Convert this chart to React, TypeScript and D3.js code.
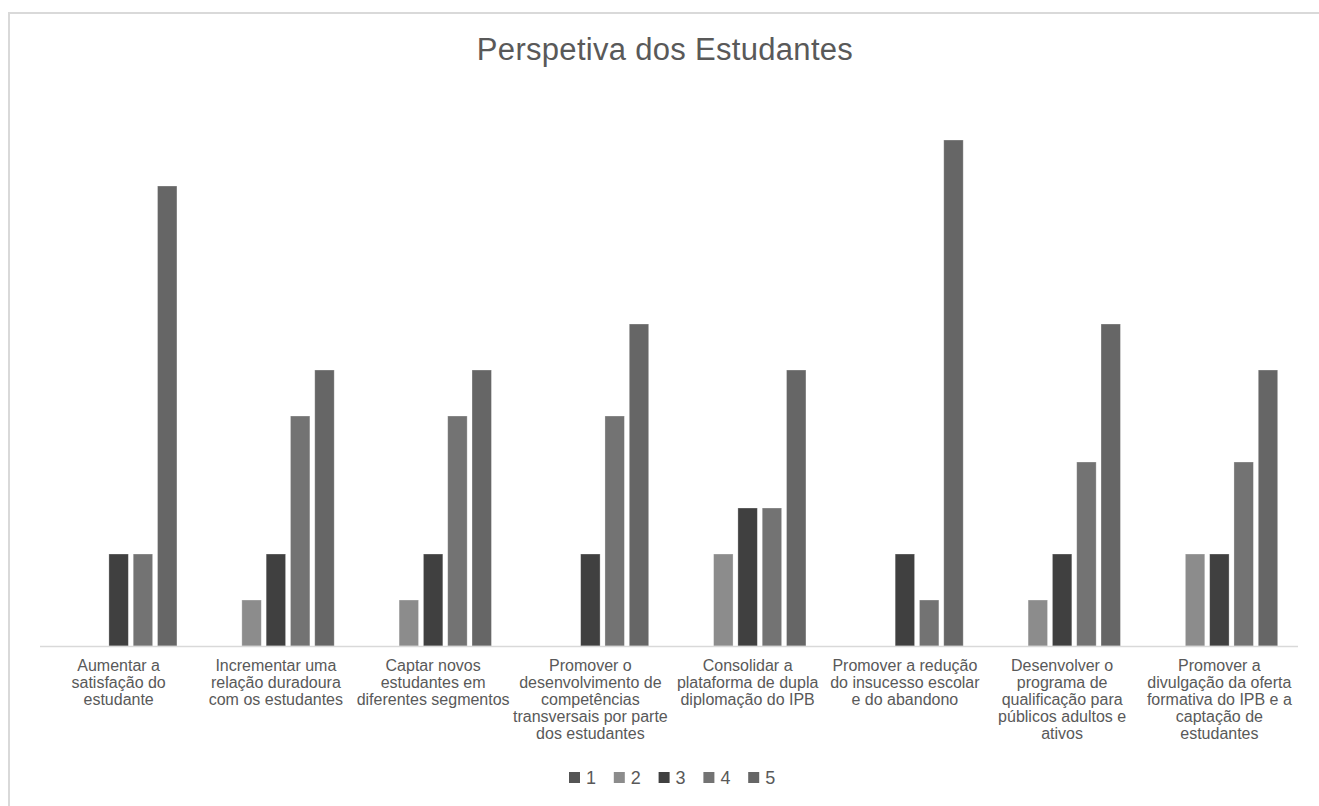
import { useEffect, useRef } from 'react'
import * as d3 from 'd3'

const categories = [
  ['Aumentar a', 'satisfação do', 'estudante'],
  ['Incrementar uma', 'relação duradoura', 'com os estudantes'],
  ['Captar novos', 'estudantes em', 'diferentes segmentos'],
  ['Promover o', 'desenvolvimento de', 'competências', 'transversais por parte', 'dos estudantes'],
  ['Consolidar a', 'plataforma de dupla', 'diplomação do IPB'],
  ['Promover a redução', 'do insucesso escolar', 'e do abandono'],
  ['Desenvolver o', 'programa de', 'qualificação para', 'públicos adultos e', 'ativos'],
  ['Promover a', 'divulgação da oferta', 'formativa do IPB e a', 'captação de', 'estudantes'],
]
const seriesNames = ['1', '2', '3', '4', '5']
const s1 = [0, 0, 0, 0, 0, 0, 0, 0]
const s2 = [0, 1, 1, 0, 2, 0, 1, 2]
const s3 = [2, 2, 2, 2, 3, 2, 2, 2]
const s4 = [2, 5, 5, 5, 3, 1, 4, 4]
const s5 = [10, 6, 6, 7, 6, 11, 7, 6]
const seriesValues = [s1, s2, s3, s4, s5]
const colors = ['#555555', '#8c8c8c', '#404040', '#737373', '#666666']

const W = 1319
const H = 806

export default function App() {
  const ref = useRef<SVGSVGElement>(null)

  useEffect(() => {
    const svg = d3.select(ref.current)
    svg.selectAll('*').remove()

    const font = '"Liberation Sans", Arial, sans-serif'
    const keys = categories.map((_, i) => String(i))

    // chart frame
    svg.append('rect')
      .attr('x', 9).attr('y', 13)
      .attr('width', W + 20).attr('height', H + 20)
      .attr('fill', '#fff').attr('stroke', '#d9d9d9').attr('stroke-width', 2)

    svg.append('text')
      .attr('x', 665).attr('y', 60)
      .attr('text-anchor', 'middle')
      .attr('font-family', font).attr('font-size', 31)
      .attr('letter-spacing', 0.3)
      .attr('fill', '#595959')
      .text('Perspetiva dos Estudantes')

    const x0 = d3.scaleBand().domain(keys).range([40, 1298])
    const x1 = d3.scaleBand().domain(seriesNames)
      .range([0, x0.bandwidth()]).paddingInner(0.2).paddingOuter(0.835)
    const y = d3.scaleLinear().domain([0, 12]).range([646, 94])

    const groups = svg.append('g').selectAll('g')
      .data(keys).join('g')
      .attr('transform', (d) => `translate(${x0(d)},0)`)

    groups.selectAll('rect')
      .data((d) => seriesNames.map((s, j) => ({ s, j, v: seriesValues[j][+d] })))
      .join('rect')
      .filter((d) => d.v > 0)
      .attr('x', (d) => x1(d.s)!)
      .attr('y', (d) => y(d.v))
      .attr('width', x1.bandwidth())
      .attr('height', (d) => y(0) - y(d.v))
      .attr('fill', (d) => colors[d.j])
      .attr('stroke', '#ffffff').attr('stroke-opacity', 0.4).attr('stroke-width', 0.75)

    svg.append('line')
      .attr('x1', 40).attr('x2', 1298)
      .attr('y1', y(0) + 0.5).attr('y2', y(0) + 0.5)
      .attr('stroke', '#d9d9d9').attr('stroke-width', 1.5)

    // category labels
    groups.append('text')
      .attr('text-anchor', 'middle')
      .attr('font-family', font).attr('font-size', 16)
      .attr('fill', '#595959')
      .selectAll('tspan')
      .data((d) => categories[+d])
      .join('tspan')
      .attr('x', x0.bandwidth() / 2)
      .attr('y', (_, i) => 671 + i * 17)
      .text((d) => d)

    // legend
    const legend = svg.append('g').selectAll('g')
      .data(seriesNames).join('g')
      .attr('transform', (_, i) => `translate(${569 + i * 44.8},772)`)
    legend.append('rect')
      .attr('width', 11).attr('height', 11)
      .attr('fill', (_, i) => colors[i])
    legend.append('text')
      .attr('x', 17).attr('y', 12)
      .attr('font-family', font).attr('font-size', 18)
      .attr('fill', '#595959')
      .text((d) => d)
  }, [])

  return <svg ref={ref} width={W} height={H} style={{ position: 'absolute', left: 0, top: 0 }} />
}
